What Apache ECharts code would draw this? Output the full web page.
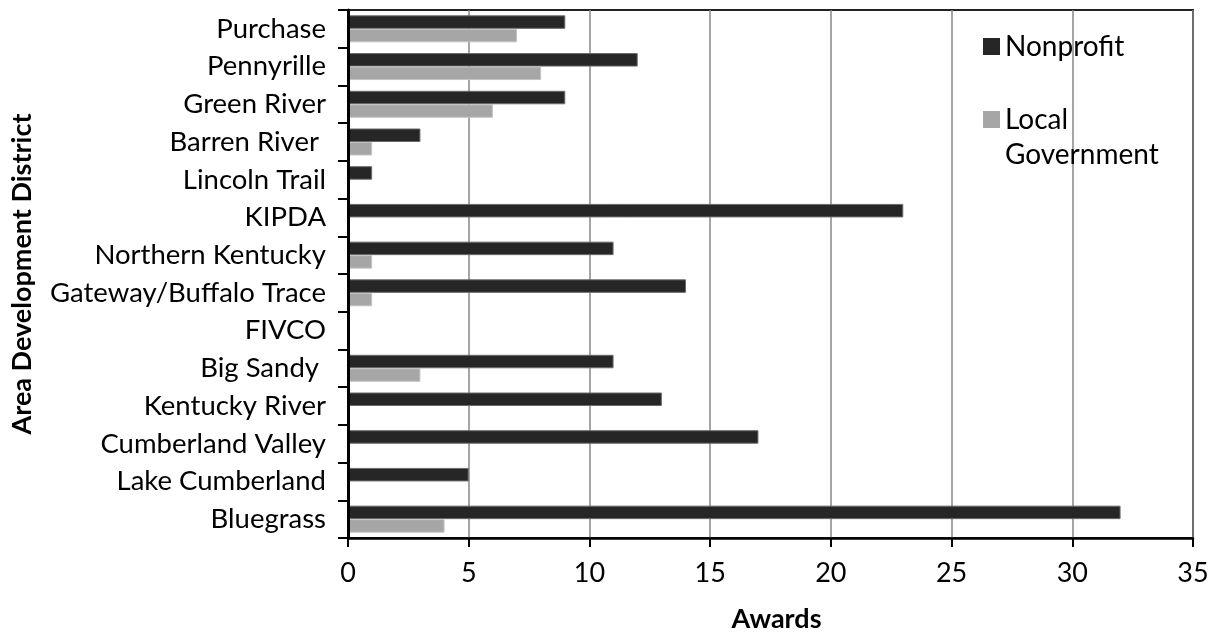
<!DOCTYPE html>
<html>
<head>
<meta charset="utf-8">
<script src="https://cdn.jsdelivr.net/npm/echarts@6/dist/echarts.min.js"></script>
<style>
  html, body { margin: 0; padding: 0; background: #fff; }
  #chart { width: 1215px; height: 633px; }
</style>
</head>
<body>
<div id="chart"></div>
<script>
// Award counts by Area Development District
const districts = [
  'Purchase', 'Pennyrille', 'Green River', 'Barren River ', 'Lincoln Trail',
  'KIPDA', 'Northern Kentucky', 'Gateway/Buffalo Trace', 'FIVCO', 'Big Sandy ',
  'Kentucky River', 'Cumberland Valley', 'Lake Cumberland', 'Bluegrass'
];
const nonprofit = [9, 12, 9, 3, 1, 23, 11, 14, 0, 11, 13, 17, 5, 32];
const localGovernment = [7, 8, 6, 1, 0, 0, 1, 1, 0, 3, 0, 0, 0, 4];
const xTicks = { min: 0, max: 35, interval: 5 };

const FONT = 'Lato, "Noto Sans", sans-serif';
const chart = echarts.init(document.getElementById('chart'));

chart.setOption({
  animation: false,
  backgroundColor: '#ffffff',
  textStyle: { fontFamily: FONT, color: '#000' },
  grid: {
    left: 348, right: 22, top: 10, bottom: 95,
    containLabel: false,
    outerBoundsMode: 'none',
    show: true, borderColor: '#222', borderWidth: 2, backgroundColor: 'transparent'
  },
  legend: {
    orient: 'vertical',
    left: 983, top: 29,
    padding: 0,
    itemGap: 3,
    itemWidth: 17, itemHeight: 17,
    icon: 'rect',
    data: ['Nonprofit', 'Local Government'],
    formatter: function (name) {
      // the second entry wraps; a leading blank line keeps its first line beside the swatch
      return name === 'Local Government' ? '\nLocal\nGovernment' : name;
    },
    textStyle: { fontFamily: FONT, fontSize: 28, color: '#000', lineHeight: 35 },
    itemStyle: { borderWidth: 0 }
  },
  xAxis: {
    type: 'value',
    min: xTicks.min, max: xTicks.max, interval: xTicks.interval,
    name: 'Awards',
    nameLocation: 'middle',
    nameGap: 68,
    nameTextStyle: { fontFamily: FONT, fontSize: 27, fontWeight: 'bold', color: '#000', padding: [0, 0, 0, 12] },
    axisLine: { show: true, lineStyle: { color: '#000', width: 2.5 } },
    axisTick: { show: true, inside: false, length: 9, lineStyle: { color: '#000', width: 2 } },
    axisLabel: { fontFamily: FONT, fontSize: 27, color: '#000', margin: 22 },
    splitLine: { show: true, lineStyle: { color: '#878787', width: 1.5 } }
  },
  yAxis: {
    type: 'category',
    inverse: true,
    z: 10,
    data: districts,
    name: 'Area Development District',
    nameLocation: 'middle',
    nameRotate: 90,
    nameGap: 312,
    nameTextStyle: { fontFamily: FONT, fontSize: 27, fontWeight: 'bold', color: '#000' },
    axisLine: { show: true, lineStyle: { color: '#000', width: 3 } },
    axisTick: { show: true, inside: false, length: 10, lineStyle: { color: '#000', width: 2 } },
    axisLabel: { fontFamily: FONT, fontSize: 27.5, color: '#000', margin: 22 },
    splitLine: { show: false }
  },
  series: [
    {
      name: 'Nonprofit',
      type: 'bar',
      data: nonprofit,
      barWidth: 13.5,
      barGap: '0%',
      itemStyle: { color: '#262626', borderColor: '#6a6a6a', borderWidth: 1 }
    },
    {
      name: 'Local Government',
      type: 'bar',
      data: localGovernment,
      barWidth: 13.5,
      barGap: '0%',
      itemStyle: { color: '#a6a6a6', borderColor: '#c4c4c4', borderWidth: 1 }
    }
  ]
});
</script>
</body>
</html>
